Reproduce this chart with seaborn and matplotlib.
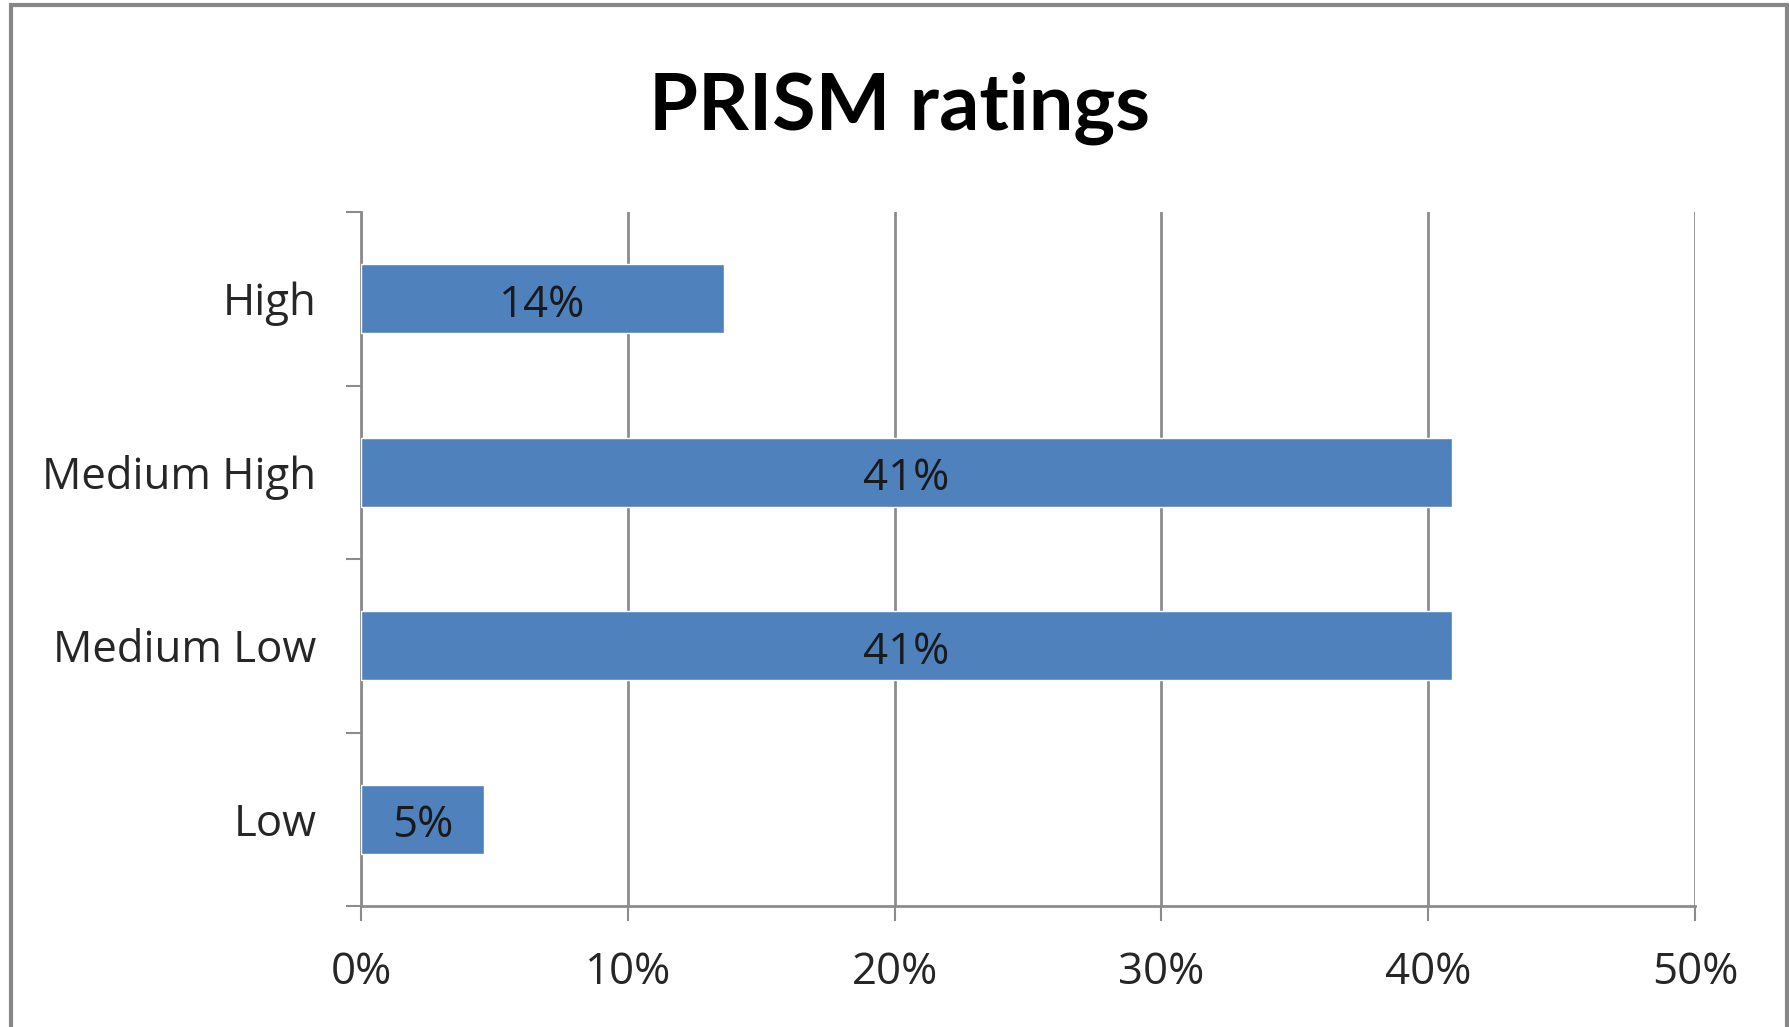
import matplotlib
matplotlib.use("Agg")
import matplotlib.pyplot as plt
import matplotlib.patches as patches
import pandas as pd
import seaborn as sns
from matplotlib.ticker import FuncFormatter, FixedLocator

# data
ratings = ['High', 'Medium High', 'Medium Low', 'Low']
shares = [0.136, 0.409, 0.409, 0.046]
labels = ['14%', '41%', '41%', '5%']

df = pd.DataFrame({'Rating': ratings, 'Share': shares})

sns.set_style('white')
plt.rcParams['font.family'] = ['Open Sans', 'DejaVu Sans']

fig = plt.figure(figsize=(17.9, 10.27), dpi=100)
ax = fig.add_axes([361 / 1790, 1 - 906 / 1027, (1695 - 361) / 1790, (906 - 212) / 1027])

sns.barplot(data=df, x='Share', y='Rating', order=ratings, orient='h',
            color='#4F81BD', saturation=1, width=0.4, ax=ax, zorder=3)

# value labels centred in the bars
for p, lab in zip(ax.patches, labels):
    ax.text(p.get_x() + p.get_width() / 2, p.get_y() + p.get_height() / 2 + 0.04, lab,
            ha='center', va='center', fontsize=31.5, color='#1a1a1a', zorder=4)

ax.set_xlim(0, 0.5)
ax.set_ylim(3.5, -0.5)
ax.set_xticks([0, 0.1, 0.2, 0.3, 0.4, 0.5])
ax.xaxis.set_major_formatter(FuncFormatter(lambda v, _: f'{v * 100:.0f}%'))
ax.xaxis.grid(True, color='#8c8c8c', linewidth=2, zorder=0)
ax.yaxis.grid(False)

ax.yaxis.set_minor_locator(FixedLocator([-0.5, 0.5, 1.5, 2.5, 3.5]))
ax.tick_params(axis='y', which='major', length=0, pad=32, labelsize=31.5)
ax.tick_params(axis='y', which='minor', length=11, width=1.5, color='#8c8c8c', direction='out', left=True)
ax.tick_params(axis='x', which='major', length=11, width=1.5, color='#8c8c8c', direction='out',
               pad=21, labelsize=31.5, bottom=True)

for side in ['top', 'right']:
    ax.spines[side].set_visible(False)
for side in ['left', 'bottom']:
    ax.spines[side].set_color('#8c8c8c')
    ax.spines[side].set_linewidth(2)

ax.set_xlabel('')
ax.set_ylabel('')

fig.text(900 / 1790, 1 - 108 / 1027, 'PRISM ratings', ha='center', va='center',
         fontsize=57, fontweight='bold', color='black', family=['Lato', 'DejaVu Sans'])

# chart frame
fig.add_artist(patches.Rectangle((11.5 / 1790, -0.05), (1787 - 11.5) / 1790, 1 - 5 / 1027 + 0.05,
                                 transform=fig.transFigure, fill=False,
                                 edgecolor='#878787', linewidth=3))

fig.savefig('out.png', dpi=100)
